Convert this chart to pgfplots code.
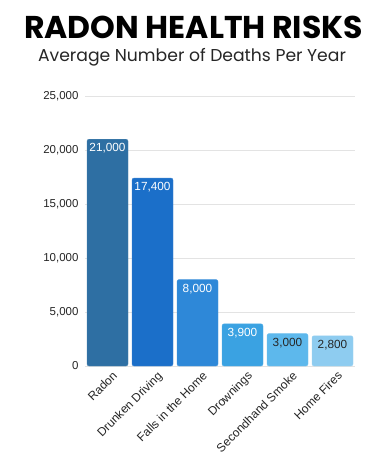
\documentclass[border=0pt]{standalone}
\usepackage{pgfplots}
\pgfplotsset{compat=1.18}
\usepackage{fontspec}
\setmainfont{Liberation Sans}
\newfontfamily\titlefont{Poppins}
\definecolor{c1}{HTML}{2E6FA3}
\definecolor{c2}{HTML}{1B6FC9}
\definecolor{c3}{HTML}{2E88D8}
\definecolor{c4}{HTML}{3AA2E2}
\definecolor{c5}{HTML}{5DB8EC}
\definecolor{c6}{HTML}{8ECCF0}
\definecolor{gridc}{HTML}{E3E3E3}
\begin{document}
\begin{tikzpicture}[x=1bp,y=1bp]
\path[use as bounding box, fill=white] (0,0) rectangle (387,-458);
\node[font=\titlefont\bfseries\fontsize{31.5bp}{34bp}\selectfont] at (193.5,-27) {RADON HEALTH RISKS};
\node[font=\titlefont\fontsize{17.2bp}{20bp}\selectfont, color=black!85] at (192,-57) {Average Number of Deaths Per Year};
\begin{axis}[
  at={(85bp,-366bp)}, anchor=south west,
  scale only axis, width=270bp, height=270bp,
  xmin=-0.5, xmax=5.5, ymin=0, ymax=25000,
  ybar, bar width=41bp,
  axis line style={draw=none},
  ytick={0,5000,10000,15000,20000,25000},
  scaled y ticks=false,
  ymajorgrids, major grid style={gridc, line width=0.8bp},
  tick style={draw=none},
  yticklabel style={font=\fontsize{11.5bp}{14bp}\selectfont, color=black!85, xshift=-3bp},
  /pgf/number format/assume math mode=true,
  /pgf/number format/1000 sep={,},
  xtick={0,1,2,3,4,5},
  xticklabels={Radon, Drunken Driving, Falls in the Home, Drownings, Secondhand Smoke, Home Fires},
  xticklabel style={rotate=45, anchor=north east, font=\fontsize{12bp}{14bp}\selectfont, color=black!85, inner sep=1bp, xshift=4bp, yshift=-2bp},
  nodes near coords,
  every node near coord/.append style={anchor=north, font=\fontsize{11.8bp}{14bp}\selectfont, yshift=-1bp},
  point meta=explicit symbolic,
]
\addplot[bar shift=0pt, fill=c1, draw=c1!85!white, rounded corners=2bp, nodes near coords style={color=white}] coordinates {(0,21000) [21,000]};
\addplot[bar shift=0pt, fill=c2, draw=c2!85!white, rounded corners=2bp, nodes near coords style={color=white}] coordinates {(1,17400) [17,400]};
\addplot[bar shift=0pt, fill=c3, draw=c3!85!white, rounded corners=2bp, nodes near coords style={color=white}] coordinates {(2,8000) [8,000]};
\addplot[bar shift=0pt, fill=c4, draw=c4!85!white, rounded corners=2bp, nodes near coords style={color=white}] coordinates {(3,3900) [3,900]};
\addplot[bar shift=0pt, fill=c5, draw=c5!85!white, rounded corners=2bp, nodes near coords style={color=black!85}] coordinates {(4,3000) [3,000]};
\addplot[bar shift=0pt, fill=c6, draw=c6!85!white, rounded corners=2bp, nodes near coords style={color=black!85}] coordinates {(5,2800) [2,800]};
\end{axis}
\end{tikzpicture}
\end{document}
